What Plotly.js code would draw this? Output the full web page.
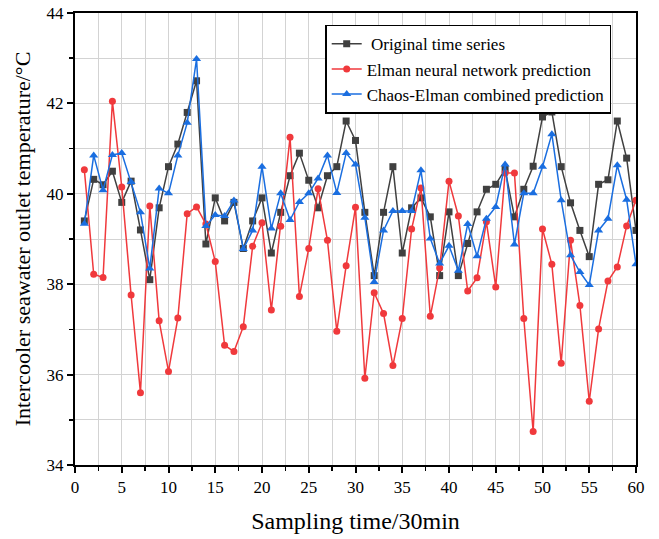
<!DOCTYPE html>
<html>
<head>
<meta charset="utf-8">
<script src="https://cdn.plot.ly/plotly-3.0.1.min.js"></script>
<style>html,body{margin:0;padding:0;background:#fff;}#chart{width:659px;height:539px;}</style>
</head>
<body>
<div id="chart"></div>
<script>
var samplingTime = [];
for (var i = 1; i <= 60; i++) samplingTime.push(i);

var originalSeries = [39.40,40.32,40.20,40.50,39.81,40.28,39.20,38.10,39.69,40.60,
  41.10,41.80,42.50,38.89,39.91,39.40,39.81,38.79,39.40,39.91,
  38.69,39.59,40.40,40.90,40.30,39.69,40.40,40.60,41.61,41.18,
  39.59,38.19,39.59,40.60,38.69,39.69,39.91,39.49,38.19,39.60,
  38.19,38.90,39.60,40.10,40.21,40.54,39.49,40.10,40.61,41.70,
  41.81,40.60,39.80,39.19,38.61,40.21,40.31,41.61,40.79,39.19];

var elmanPrediction = [40.53,38.22,38.15,42.05,40.15,37.76,35.60,39.73,37.19,36.07,
  37.25,39.56,39.71,39.33,38.50,36.65,36.51,37.06,38.84,39.36,
  37.43,39.28,41.25,37.73,38.79,40.11,38.97,36.96,38.41,39.70,
  35.92,37.81,37.35,36.20,37.24,39.22,40.13,37.29,38.36,40.28,
  39.51,37.85,38.14,39.38,37.94,40.46,40.46,37.24,34.74,39.22,
  38.44,36.25,38.97,37.53,35.41,37.01,38.07,38.38,39.29,39.86];

var chaosElmanPrediction = [39.34,40.85,40.08,40.86,40.90,40.26,39.59,38.35,40.12,40.01,
  40.85,41.57,42.98,39.29,39.53,39.51,39.85,38.78,39.19,40.60,
  39.23,40.01,39.42,39.82,40.01,40.34,40.85,40.02,40.90,40.65,
  39.47,38.05,39.19,39.62,39.62,39.62,40.52,39.01,38.46,38.85,
  38.30,39.33,38.62,39.45,39.71,40.65,38.88,40.01,40.01,40.60,
  41.32,39.86,38.64,38.27,37.98,39.19,39.45,40.63,39.87,38.44];

var seriesNames = ['\u00a0Original time series','Elman neural network prediction','Chaos-Elman combined prediction'];

var traces = [
  {x: samplingTime, y: originalSeries, name: seriesNames[0], mode: 'lines+markers',
   line: {color: '#404040', width: 1.5}, marker: {symbol: 'square', size: 7, color: '#404040'}},
  {x: samplingTime, y: elmanPrediction, name: seriesNames[1], mode: 'lines+markers',
   line: {color: '#f0393c', width: 1.5}, marker: {symbol: 'circle', size: 7, color: '#f0393c'}},
  {x: samplingTime, y: chaosElmanPrediction, name: seriesNames[2], mode: 'lines+markers',
   line: {color: '#1a6ee0', width: 1.5}, marker: {symbol: 'triangle-up', size: 8, color: '#1a6ee0'}}
];

var serif = 'Liberation Serif, Times New Roman, serif';
var layout = {
  width: 659, height: 539,
  margin: {l: 75, r: 23, t: 13, b: 74},
  paper_bgcolor: '#fff', plot_bgcolor: '#fff',
  showlegend: true,
  legend: {x: 0.446, y: 0.974, xanchor: 'left', yanchor: 'top',
    bgcolor: '#fff', bordercolor: '#000', borderwidth: 1.5,
    font: {family: serif, size: 17, color: '#000'}, tracegroupgap: 0},
  xaxis: {range: [0, 60], dtick: 5, tick0: 0, showline: true, linecolor: '#000', linewidth: 2,
    mirror: true, ticks: 'outside', ticklen: 6, tickwidth: 2, tickcolor: '#000',
    showgrid: true, gridcolor: '#d3d3d3', gridwidth: 1, zeroline: false,
    minor: {dtick: 2.5, tick0: 0, ticks: 'outside', ticklen: 4, tickwidth: 1.5, tickcolor: '#000', showgrid: true, gridcolor: '#d3d3d3'},
    tickfont: {family: serif, size: 17, color: '#000'},
    title: {text: 'Sampling time/30min', font: {family: serif, size: 24, color: '#000'}, standoff: 16}},
  yaxis: {range: [34, 44], dtick: 2, tick0: 34, showline: true, linecolor: '#000', linewidth: 2,
    mirror: true, ticks: 'outside', ticklen: 6, tickwidth: 2, tickcolor: '#000',
    showgrid: true, gridcolor: '#d3d3d3', gridwidth: 1, zeroline: false,
    minor: {dtick: 1, tick0: 34, ticks: 'outside', ticklen: 4, tickwidth: 1.5, tickcolor: '#000', showgrid: true, gridcolor: '#d3d3d3'},
    tickfont: {family: serif, size: 17, color: '#000'},
    title: {text: 'Intercooler seawater outlet temperature/°C', font: {family: serif, size: 22, color: '#000'}, standoff: 10}}
};

Plotly.newPlot('chart', traces, layout, {displayModeBar: false, staticPlot: true});
</script>
</body>
</html>
